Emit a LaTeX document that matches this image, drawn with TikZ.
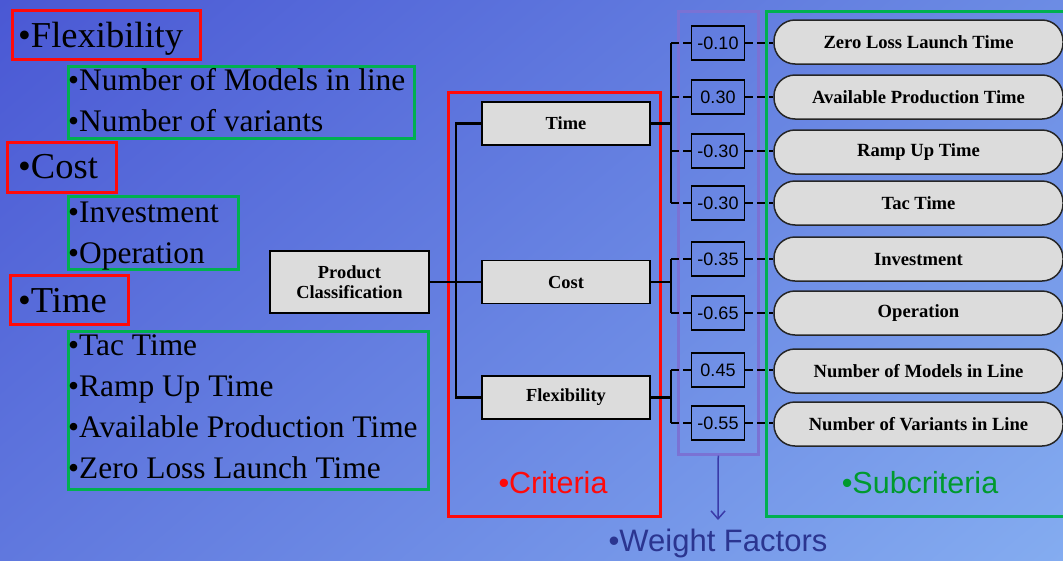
\documentclass[tikz,border=0pt]{standalone}
\usepackage{fontspec}
\setmainfont{Liberation Serif}
\newfontfamily\arialf{Liberation Sans}
\usetikzlibrary{arrows.meta,shadings}
\definecolor{bgUL}{HTML}{4A58D4}
\definecolor{bgUR}{HTML}{6C8CE4}
\definecolor{bgLL}{HTML}{6078DE}
\definecolor{bgLR}{HTML}{84ACF0}
\definecolor{boxgray}{HTML}{DCDCDC}
\definecolor{redc}{HTML}{FF0A0A}
\definecolor{greenc}{HTML}{00B050}
\definecolor{greentxt}{HTML}{009A2E}
\definecolor{purplec}{HTML}{7A72D4}
\definecolor{navy}{HTML}{2B3590}
\definecolor{arrowc}{HTML}{3A3AA8}
\tikzset{
  redbox/.style={draw=redc, line width=3pt, inner sep=0pt, anchor=north west},
  greenbox/.style={draw=greenc, line width=3pt, inner sep=0pt, anchor=north west},
  bigtxt/.style={anchor=base west, inner sep=0pt, font=\fontsize{36.5}{40}\selectfont},
  subtxt/.style={anchor=base west, inner sep=0pt, font=\fontsize{31.4}{36}\selectfont},
  critbox/.style={draw=black, fill=boxgray, line width=1.5pt, minimum width=168pt, minimum height=43pt, inner sep=0pt, font=\fontsize{18.4}{20}\selectfont\bfseries},
  wbox/.style={draw=black, line width=1.5pt, minimum width=53pt, minimum height=34pt, inner sep=0pt, font=\arialf\fontsize{18}{20}\selectfont},
  pill/.style={draw=black!85, fill=boxgray, line width=1.5pt, rounded corners=21pt, minimum width=289pt, minimum height=44pt, inner sep=0pt, font=\fontsize{18.6}{20}\selectfont\bfseries},
  conn/.style={draw=black, line width=2.5pt},
  dconn/.style={draw=black, line width=2.5pt, dash pattern=on 8pt off 4pt},
  lbl/.style={anchor=base, inner sep=0pt, font=\arialf\fontsize{30.5}{34}\selectfont},
}
\begin{document}
\begin{tikzpicture}[x=1pt,y=-1pt]
\useasboundingbox (0,0) rectangle (1063,560);
\clip (0,0) rectangle (1063,560);
\shade[upper left=bgUL, upper right=bgUR, lower left=bgLL, lower right=bgLR] (0,0) rectangle (1063,560);

% left list
\node[redbox, minimum width=188pt, minimum height=49pt] (flexbox) at (11,9) {};
\node[bigtxt] (flext) at (18,47) {•Flexibility};
\node[greenbox, minimum width=346pt, minimum height=72pt] (flexsub) at (67,65) {};
\node[subtxt] (nm) at (68,90) {•Number of Models in line};
\node[subtxt] (nv) at (68,131) {•Number of variants};

\node[redbox, minimum width=109pt, minimum height=50pt] (costbox) at (6,141) {};
\node[bigtxt] (costt) at (18,178) {•Cost};
\node[greenbox, minimum width=170pt, minimum height=73pt] (costsub) at (67,195) {};
\node[subtxt] (inv) at (68,222) {•Investment};
\node[subtxt] (op) at (68,263) {•Operation};

\node[redbox, minimum width=118pt, minimum height=49pt] (timebox) at (9,274) {};
\node[bigtxt] (timet) at (18,312) {•Time};
\node[greenbox, minimum width=360pt, minimum height=158pt] (timesub) at (67,330) {};
\node[subtxt] (tac) at (68,355) {•Tac Time};
\node[subtxt] (ramp) at (68,396) {•Ramp Up Time};
\node[subtxt] (avail) at (68,437) {•Available Production Time};
\node[subtxt] (zero) at (68,478) {•Zero Loss Launch Time};

% criteria frame
\node[redbox, minimum width=212pt, minimum height=424pt] (critframe) at (447,91) {};
\node[lbl, text=redc] (critl) at (553,493) {•Criteria};

% subcriteria frame
\node[greenbox, minimum width=320pt, minimum height=505pt] (subframe) at (765,10) {};
\node[lbl, text=greentxt] (subl) at (920,493) {•Subcriteria};

% weight frame
\node[draw=purplec, line width=2.5pt, inner sep=0pt, anchor=north west, minimum width=80pt, minimum height=443pt] (wframe) at (677,10) {};
\node[lbl, text=navy, font=\arialf\fontsize{31}{34}\selectfont] (wfl) at (718,551) {•Weight Factors};
\draw[arrowc, line width=1.5pt, -{Straight Barb[length=8pt, width=14pt, line width=1.5pt]}] (wframe.south) -- (718,520) coordinate (wfend);

% product classification & criteria
\node[critbox, minimum width=159pt, minimum height=62pt, align=center] (pc) at (349.5,282) {Product\\Classification};
\node[critbox] (ctime) at (566,123.5) {Time};
\node[critbox] (ccost) at (566,282) {Cost};
\node[critbox] (cflex) at (566,397.5) {Flexibility};

\coordinate (jx) at (456,0);
\draw[conn] (pc.east) -- (ccost.west);
\draw[conn] (ctime.west) -- (ctime.west -| jx) -- (cflex.west -| jx) -- (cflex.west);

% weights
\node[wbox] (w1) at (718,43) {-0.10};
\node[wbox] (w2) at (718,97) {0.30};
\node[wbox] (w3) at (718,151) {-0.30};
\node[wbox] (w4) at (718,203) {-0.30};
\node[wbox] (w5) at (718,259) {-0.35};
\node[wbox] (w6) at (718,313) {-0.65};
\node[wbox] (w7) at (718,370) {0.45};
\node[wbox] (w8) at (718,423) {-0.55};

% subcriteria pills
\node[pill] (s1) at (918.5,42) {Zero Loss Launch Time};
\node[pill] (s2) at (918.5,97) {Available Production Time};
\node[pill] (s3) at (918.5,152) {Ramp Up Time};
\node[pill] (s4) at (918.5,203) {Tac Time};
\node[pill] (s5) at (918.5,259) {Investment};
\node[pill] (s6) at (918.5,313) {Operation};
\node[pill] (s7) at (918.5,371) {Number of Models in Line};
\node[pill] (s8) at (918.5,424) {Number of Variants in Line};

% brackets
\coordinate (bx) at (671,0);
\draw[conn] (ctime.east) -- (ctime.east -| bx);
\draw[conn] (w1.west -| bx) -- (w4.west -| bx);
\draw[conn] (ccost.east) -- (ccost.east -| bx);
\draw[conn] (w5.west -| bx) -- (w6.west -| bx);
\draw[conn] (cflex.east) -- (cflex.east -| bx);
\draw[conn] (w7.west -| bx) -- (w8.west -| bx);
\foreach \i in {1,...,8}{
  \draw[dconn] (w\i.west -| bx) -- (w\i.west);
  \draw[dconn] (w\i.east) -- (w\i.east -| s\i.west);
}
\end{tikzpicture}
\end{document}
